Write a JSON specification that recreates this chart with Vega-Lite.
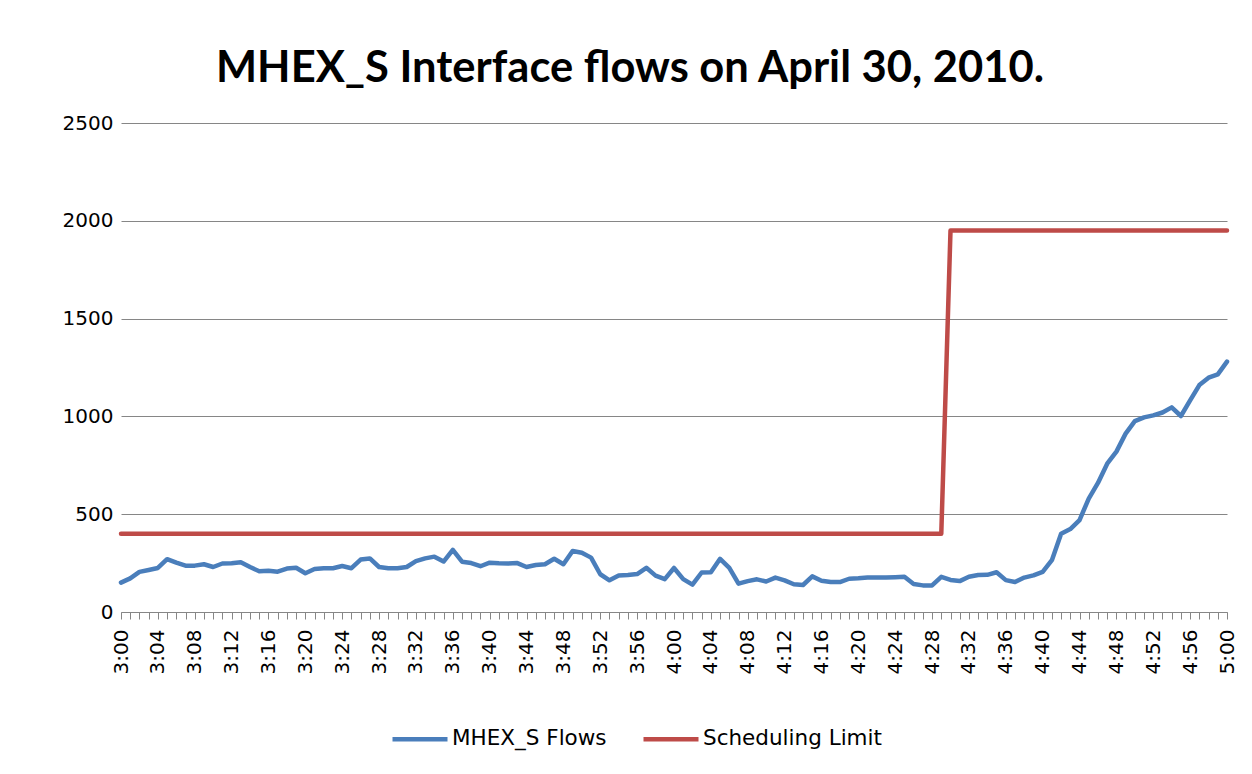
{
  "$schema": "https://vega.github.io/schema/vega-lite/v6.json",
  "autosize": "none",
  "width": 1106,
  "height": 489,
  "padding": {"left": 121, "top": 123, "right": 25, "bottom": 162},
  "background": "white",
  "title": {
    "text": "MHEX_S Interface flows on April 30, 2010.",
    "font": "Lato",
    "fontSize": 43.5,
    "fontWeight": "bold",
    "color": "#000000",
    "anchor": "middle",
    "frame": "group",
    "baseline": "alphabetic",
    "offset": -12,
    "dx": -44
  },
  "data": {
    "values": [
      {"t":"3:00","flow":150,"limit":400},{"t":"3:01","flow":172,"limit":400},{"t":"3:02","flow":205,"limit":400},{"t":"3:03","flow":215,"limit":400},{"t":"3:04","flow":225,"limit":400},{"t":"3:05","flow":270,"limit":400},{"t":"3:06","flow":252,"limit":400},{"t":"3:07","flow":237,"limit":400},{"t":"3:08","flow":237,"limit":400},{"t":"3:09","flow":244,"limit":400},
      {"t":"3:10","flow":230,"limit":400},{"t":"3:11","flow":248,"limit":400},{"t":"3:12","flow":249,"limit":400},{"t":"3:13","flow":254,"limit":400},{"t":"3:14","flow":230,"limit":400},{"t":"3:15","flow":208,"limit":400},{"t":"3:16","flow":211,"limit":400},{"t":"3:17","flow":206,"limit":400},{"t":"3:18","flow":222,"limit":400},{"t":"3:19","flow":226,"limit":400},
      {"t":"3:20","flow":198,"limit":400},{"t":"3:21","flow":220,"limit":400},{"t":"3:22","flow":224,"limit":400},{"t":"3:23","flow":224,"limit":400},{"t":"3:24","flow":235,"limit":400},{"t":"3:25","flow":224,"limit":400},{"t":"3:26","flow":268,"limit":400},{"t":"3:27","flow":274,"limit":400},{"t":"3:28","flow":230,"limit":400},{"t":"3:29","flow":224,"limit":400},
      {"t":"3:30","flow":224,"limit":400},{"t":"3:31","flow":230,"limit":400},{"t":"3:32","flow":260,"limit":400},{"t":"3:33","flow":274,"limit":400},{"t":"3:34","flow":283,"limit":400},{"t":"3:35","flow":258,"limit":400},{"t":"3:36","flow":318,"limit":400},{"t":"3:37","flow":257,"limit":400},{"t":"3:38","flow":250,"limit":400},{"t":"3:39","flow":234,"limit":400},
      {"t":"3:40","flow":252,"limit":400},{"t":"3:41","flow":249,"limit":400},{"t":"3:42","flow":248,"limit":400},{"t":"3:43","flow":250,"limit":400},{"t":"3:44","flow":230,"limit":400},{"t":"3:45","flow":240,"limit":400},{"t":"3:46","flow":244,"limit":400},{"t":"3:47","flow":272,"limit":400},{"t":"3:48","flow":244,"limit":400},{"t":"3:49","flow":312,"limit":400},
      {"t":"3:50","flow":303,"limit":400},{"t":"3:51","flow":278,"limit":400},{"t":"3:52","flow":193,"limit":400},{"t":"3:53","flow":162,"limit":400},{"t":"3:54","flow":186,"limit":400},{"t":"3:55","flow":189,"limit":400},{"t":"3:56","flow":194,"limit":400},{"t":"3:57","flow":226,"limit":400},{"t":"3:58","flow":186,"limit":400},{"t":"3:59","flow":168,"limit":400},
      {"t":"4:00","flow":225,"limit":400},{"t":"4:01","flow":168,"limit":400},{"t":"4:02","flow":140,"limit":400},{"t":"4:03","flow":202,"limit":400},{"t":"4:04","flow":203,"limit":400},{"t":"4:05","flow":272,"limit":400},{"t":"4:06","flow":226,"limit":400},{"t":"4:07","flow":145,"limit":400},{"t":"4:08","flow":158,"limit":400},{"t":"4:09","flow":167,"limit":400},
      {"t":"4:10","flow":156,"limit":400},{"t":"4:11","flow":176,"limit":400},{"t":"4:12","flow":162,"limit":400},{"t":"4:13","flow":142,"limit":400},{"t":"4:14","flow":138,"limit":400},{"t":"4:15","flow":182,"limit":400},{"t":"4:16","flow":160,"limit":400},{"t":"4:17","flow":153,"limit":400},{"t":"4:18","flow":153,"limit":400},{"t":"4:19","flow":170,"limit":400},
      {"t":"4:20","flow":172,"limit":400},{"t":"4:21","flow":176,"limit":400},{"t":"4:22","flow":177,"limit":400},{"t":"4:23","flow":177,"limit":400},{"t":"4:24","flow":178,"limit":400},{"t":"4:25","flow":180,"limit":400},{"t":"4:26","flow":143,"limit":400},{"t":"4:27","flow":136,"limit":400},{"t":"4:28","flow":136,"limit":400},{"t":"4:29","flow":180,"limit":400},
      {"t":"4:30","flow":164,"limit":1950},{"t":"4:31","flow":158,"limit":1950},{"t":"4:32","flow":180,"limit":1950},{"t":"4:33","flow":189,"limit":1950},{"t":"4:34","flow":190,"limit":1950},{"t":"4:35","flow":203,"limit":1950},{"t":"4:36","flow":163,"limit":1950},{"t":"4:37","flow":153,"limit":1950},{"t":"4:38","flow":176,"limit":1950},{"t":"4:39","flow":187,"limit":1950},
      {"t":"4:40","flow":205,"limit":1950},{"t":"4:41","flow":265,"limit":1950},{"t":"4:42","flow":400,"limit":1950},{"t":"4:43","flow":424,"limit":1950},{"t":"4:44","flow":470,"limit":1950},{"t":"4:45","flow":580,"limit":1950},{"t":"4:46","flow":660,"limit":1950},{"t":"4:47","flow":758,"limit":1950},{"t":"4:48","flow":820,"limit":1950},{"t":"4:49","flow":912,"limit":1950},
      {"t":"4:50","flow":976,"limit":1950},{"t":"4:51","flow":995,"limit":1950},{"t":"4:52","flow":1005,"limit":1950},{"t":"4:53","flow":1020,"limit":1950},{"t":"4:54","flow":1046,"limit":1950},{"t":"4:55","flow":1002,"limit":1950},{"t":"4:56","flow":1082,"limit":1950},{"t":"4:57","flow":1160,"limit":1950},{"t":"4:58","flow":1198,"limit":1950},{"t":"4:59","flow":1215,"limit":1950},
      {"t":"5:00","flow":1280,"limit":1950}
    ]
  },
  "transform": [
    {"fold": ["flow", "limit"], "as": ["series", "value"]}
  ],
  "mark": {"type": "line", "strokeWidth": 4.5, "strokeCap": "round", "strokeJoin": "round"},
  "encoding": {
    "x": {
      "field": "t",
      "type": "ordinal",
      "sort": null,
      "scale": {"type": "point", "padding": 0},
      "axis": {
        "title": null,
        "labelAngle": -90,
        "labelAlign": "right",
        "labelBaseline": "middle",
        "labelFont": "DejaVu Sans",
        "labelFontSize": 20,
        "labelColor": "#000000",
        "labelPadding": 10,
        "labelOverlap": false,
        "labelExpr": "toNumber(slice(datum.value, -2)) % 4 == 0 ? datum.value : ''",
        "ticks": true,
        "tickSize": 7,
        "tickColor": "#868686",
        "domainColor": "#868686",
        "domainWidth": 1,
        "grid": false
      }
    },
    "y": {
      "field": "value",
      "type": "quantitative",
      "scale": {"domain": [0, 2500], "nice": false},
      "axis": {
        "title": null,
        "values": [0, 500, 1000, 1500, 2000, 2500],
        "format": "d",
        "grid": true,
        "gridColor": "#868686",
        "gridWidth": 1,
        "domain": false,
        "ticks": false,
        "labelFont": "DejaVu Sans",
        "labelFontSize": 20,
        "labelColor": "#000000",
        "labelPadding": 8
      }
    },
    "color": {
      "field": "series",
      "type": "nominal",
      "scale": {"domain": ["flow", "limit"], "range": ["#4A7EBB", "#BE4B48"]},
      "legend": {
        "title": null,
        "orient": "none",
        "direction": "horizontal",
        "legendX": 269,
        "legendY": 586,
        "symbolType": "stroke",
        "symbolSize": 3025,
        "symbolStrokeWidth": 4.5,
        "labelFont": "DejaVu Sans",
        "labelFontSize": 21.5,
        "labelColor": "#000000",
        "labelOffset": 2,
        "labelLimit": 0,
        "columnPadding": 27,
        "labelExpr": "datum.value == 'flow' ? 'MHEX_S Flows' : 'Scheduling Limit'"
      }
    }
  },
  "config": {"view": {"stroke": null}}
}
